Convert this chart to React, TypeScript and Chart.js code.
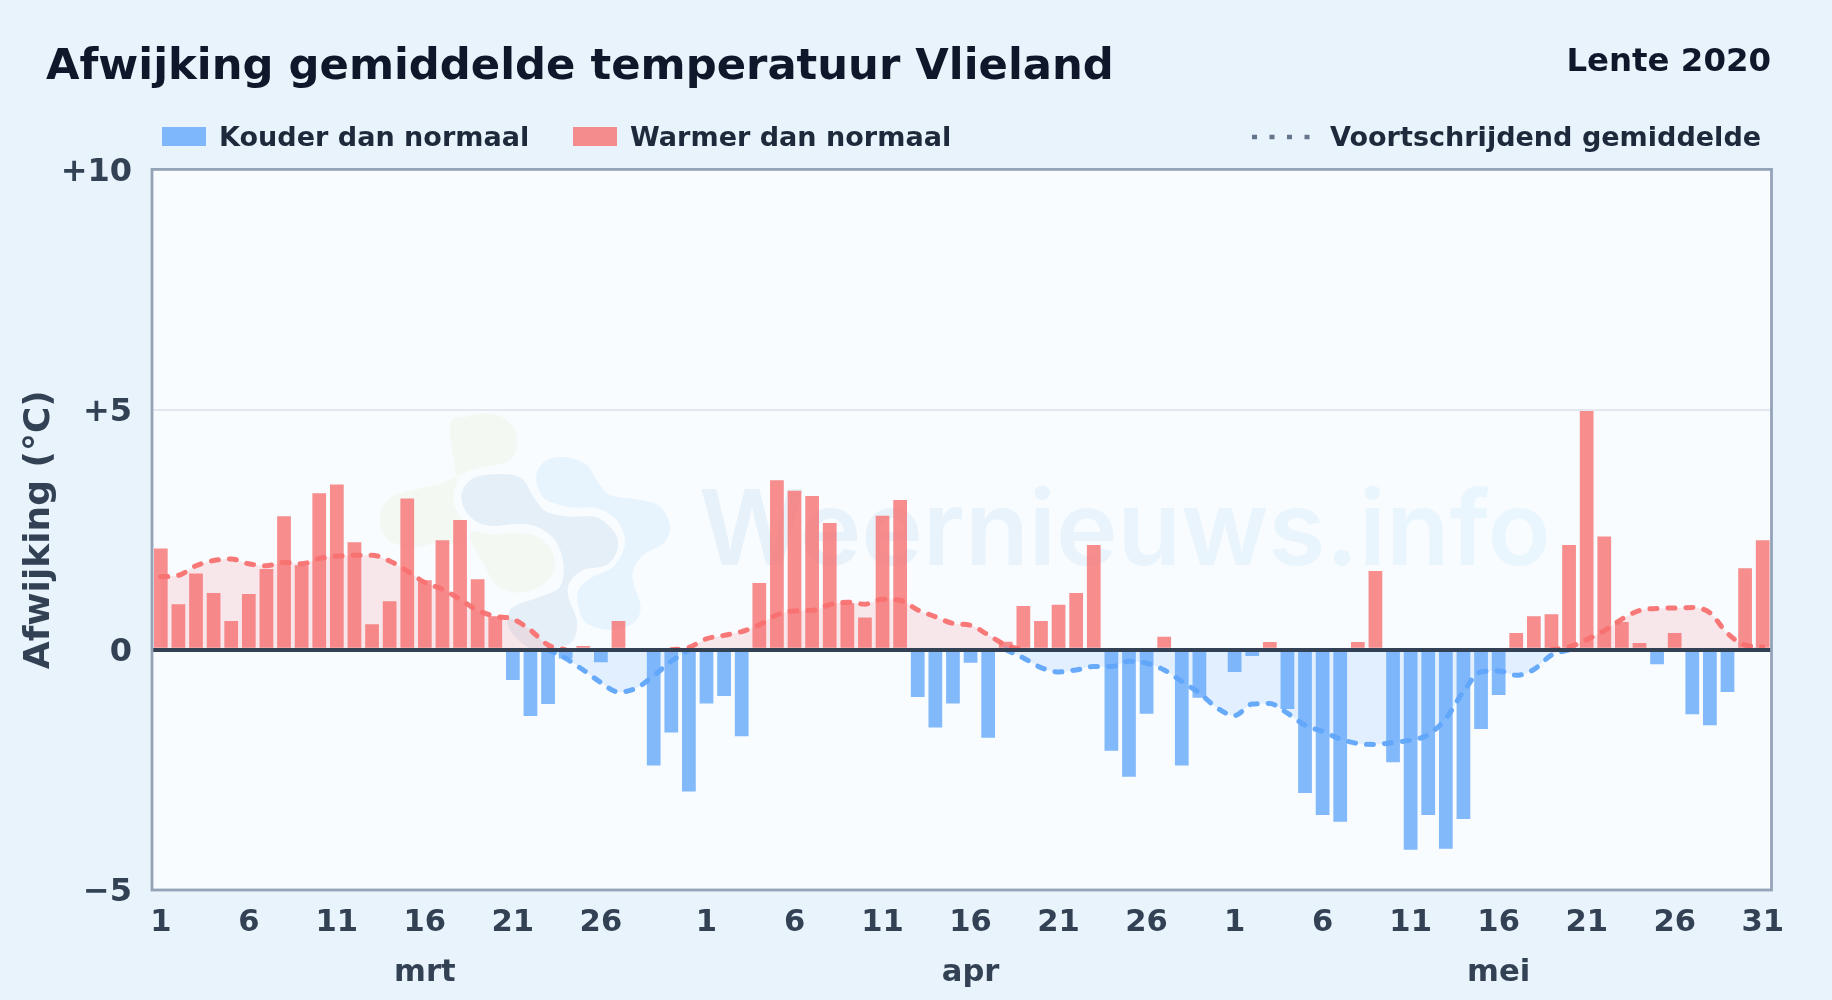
import React, { useEffect, useRef } from "react";
import { Chart, registerables } from "chart.js";

Chart.register(...registerables);

const monthNames = ["mrt", "apr", "mei"];
const monthDays = [31, 30, 31];
const tickDays = [1, 6, 11, 16, 21, 26];
const finalTickDay = 31;
const yTickLabels: Record<string, string> = { "10": "+10", "5": "+5", "0": "0", "-5": "\u22125" };

const deviations = [
  2.11, 0.95, 1.59, 1.18, 0.6, 1.16, 1.68, 2.78, 1.76, 3.26, 3.44, 2.24, 0.53, 1.01, 3.15, 1.45, 2.28, 2.7, 1.47, 0.7,
  -0.63, -1.38, -1.13, -0.18, 0.08, -0.26, 0.6, null, -2.41, -1.72, -2.95,
  -1.12, -0.96, -1.8, 1.39, 3.53, 3.31, 3.2, 2.64, 0.97, 0.67, 2.79, 3.12, -0.98, -1.62, -1.12, -0.27, -1.83, 0.17, 0.91,
  0.6, 0.94, 1.18, 2.18, -2.1, -2.64, -1.33, 0.27, -2.41, -1.0, null,
  -0.46, -0.13, 0.16, -1.23, -2.98, -3.44, -3.58, 0.16, 1.64, -2.34, -4.16, -3.44, -4.14, -3.52, -1.65, -0.94, 0.35, 0.7, 0.74, 2.18,
  5.0, 2.36, 0.58, 0.14, -0.3, 0.35, -1.34, -1.57, -0.88, 1.7, 2.28,
];

const movingAverage = [
  1.52, 1.55, 1.75, 1.86, 1.89, 1.79, 1.75, 1.82, 1.79, 1.9, 1.95, 1.97, 1.97, 1.85, 1.64, 1.4, 1.26, 1.05, 0.82, 0.7,
  0.64, 0.41, 0.1, -0.18, -0.42, -0.68, -0.88, -0.8, -0.54, -0.24, 0.05,
  0.23, 0.3, 0.38, 0.52, 0.73, 0.81, 0.82, 0.94, 0.99, 0.95, 1.05, 1.03, 0.83, 0.69, 0.55, 0.51, 0.31, 0.1, -0.17,
  -0.37, -0.46, -0.42, -0.35, -0.35, -0.24, -0.28, -0.42, -0.66, -0.9, -1.21,
  -1.37, -1.13, -1.12, -1.32, -1.57, -1.7, -1.86, -1.95, -1.97, -1.93, -1.88, -1.77, -1.43, -0.87, -0.46, -0.44, -0.53, -0.41, -0.11, 0.06,
  0.21, 0.4, 0.64, 0.82, 0.86, 0.87, 0.88, 0.77, 0.34, 0.1, 0.06,
];

const titleText = "Afwijking gemiddelde temperatuur Vlieland";
const periodText = "Lente 2020";
const legendCold = "Kouder dan normaal";
const legendWarm = "Warmer dan normaal";
const legendAverage = "Voortschrijdend gemiddelde";
const yAxisTitle = "Afwijking (\u00b0C)";
const watermarkText = "Weernieuws.info";

const FONT = '"DejaVu Sans"';
const PAGE_BG = "#e8f3fc";
const PLOT_BG = "#f8fcff";
const BLUE_BAR = "rgba(96,165,250,0.78)";
const RED_BAR = "rgba(246,113,113,0.8)";

const labels: (string | string[])[] = [];
monthNames.forEach((name, m) => {
  for (let d = 1; d <= monthDays[m]; d++) {
    let label: string | string[] = "";
    if (tickDays.includes(d) || (m === 2 && d === finalTickDay)) label = String(d);
    if (d === 16) label = [String(d), name];
    labels.push(label);
  }
});

// Keep one side of the average, with a zero where it meets the other side.
const sideOf = (sign: number) =>
  movingAverage.map((v, i) => {
    if (v * sign > 0) return v;
    const prev = movingAverage[i - 1];
    const next = movingAverage[i + 1];
    if ((prev !== undefined && prev * sign > 0) || (next !== undefined && next * sign > 0)) return 0;
    return null;
  });

const logoGreenTop = [[240,90],[290,50],[370,42],[425,75],[442,130],[420,180],[360,200],[290,215],[215,250],[130,270],[60,295],[30,350],[50,415],[120,443],[190,430],[280,400]];
const logoGreenLow = [[300,400],[400,400],[490,405],[545,450],[552,510],[510,560],[440,578],[380,555],[340,490]];
const logoDark = [[275,280],[310,235],[390,222],[455,235],[490,290],[530,335],[600,350],[680,352],[735,400],[742,450],[710,495],[640,510],[600,545],[595,590],[620,660],[610,720],[560,745],[480,745],[420,690],[415,640],[440,615],[510,590],[570,560],[580,490],[555,420],[500,380],[440,372],[370,378],[320,365],[285,330]];
const logoLight = [[500,220],[530,180],[590,172],[650,195],[680,240],[720,285],[800,298],[870,320],[900,380],[880,430],[820,465],[790,510],[790,550],[812,620],[790,670],[720,690],[650,670],[625,620],[625,570],[660,535],[730,500],[765,430],[740,360],[680,325],[600,322],[530,300],[505,265]];

function blob(ctx: CanvasRenderingContext2D, pts: number[][]) {
  const p = pts.map(([x, y]) => [370 + x / 3, 400 + y / 3]);
  const n = p.length;
  ctx.beginPath();
  ctx.moveTo(p[0][0], p[0][1]);
  for (let i = 0; i < n; i++) {
    const a = p[(i - 1 + n) % n], b = p[i], c = p[(i + 1) % n], d = p[(i + 2) % n];
    ctx.bezierCurveTo(b[0] + (c[0] - a[0]) / 6, b[1] + (c[1] - a[1]) / 6, c[0] - (d[0] - b[0]) / 6, c[1] - (d[1] - b[1]) / 6, c[0], c[1]);
  }
  ctx.closePath();
}

const decorPlugin = {
  id: "decor",
  beforeDraw(chart: any) {
    const { ctx, chartArea: a } = chart;
    ctx.save();
    ctx.fillStyle = PAGE_BG;
    ctx.fillRect(0, 0, chart.width, chart.height);
    ctx.fillStyle = PLOT_BG;
    ctx.fillRect(a.left, a.top, a.right - a.left, a.bottom - a.top);

    ctx.fillStyle = "#f3f9f2";
    blob(ctx, logoGreenTop); ctx.fill();
    blob(ctx, logoGreenLow); ctx.fill();
    ctx.strokeStyle = PLOT_BG;
    ctx.lineWidth = 16;
    ctx.fillStyle = "#e5eff8";
    blob(ctx, logoDark); ctx.stroke(); ctx.fill();
    ctx.fillStyle = "#e7f4fe";
    blob(ctx, logoLight); ctx.fill();

    const g = ctx.createLinearGradient(700, 0, 1545, 0);
    g.addColorStop(0, "#e7f1f9");
    g.addColorStop(1, "#eaf6fe");
    ctx.fillStyle = g;
    ctx.font = '600 104px Inter';
    ctx.textAlign = "left";
    ctx.textBaseline = "alphabetic";
    ctx.fillText(watermarkText, 699, 565);
    ctx.restore();
  },
  afterDraw(chart: any) {
    const { ctx, chartArea: a } = chart;
    ctx.save();
    ctx.strokeStyle = "#94a3b8";
    ctx.lineWidth = 2.8;
    ctx.strokeRect(a.left, a.top, a.right - a.left, a.bottom - a.top);

    ctx.textBaseline = "alphabetic";
    ctx.textAlign = "left";
    ctx.fillStyle = "#0f172a";
    ctx.font = `bold 43.3px ${FONT}`;
    ctx.fillText(titleText, 46, 79);
    ctx.textAlign = "right";
    ctx.font = `bold 32.4px ${FONT}`;
    ctx.fillText(periodText, 1771, 71);

    ctx.textAlign = "left";
    ctx.font = `bold 27.05px ${FONT}`;
    ctx.fillStyle = BLUE_BAR;
    ctx.fillRect(162, 127, 44, 19);
    ctx.fillStyle = RED_BAR;
    ctx.fillRect(573, 127, 44, 19);
    ctx.fillStyle = "#1e293b";
    ctx.fillText(legendCold, 219, 146);
    ctx.fillText(legendWarm, 630, 146);
    ctx.fillText(legendAverage, 1330, 146);
    ctx.strokeStyle = "#64748b";
    ctx.lineWidth = 4.5;
    ctx.setLineDash([5, 12.5]);
    ctx.beginPath();
    ctx.moveTo(1252, 137);
    ctx.lineTo(1310, 137);
    ctx.stroke();
    ctx.restore();
  },
};

export default function App() {
  const ref = useRef<HTMLCanvasElement>(null);
  useEffect(() => {
    const lineBase = {
      type: "line" as const,
      borderWidth: 5,
      borderDash: [7, 11],
      borderCapStyle: "round" as const,
      pointRadius: 0,
      cubicInterpolationMode: "monotone" as const,
      spanGaps: false,
      order: 0,
    };
    const chart = new Chart(ref.current!, {
      type: "bar",
      plugins: [decorPlugin],
      data: {
        labels,
        datasets: [
          {
            data: deviations,
            backgroundColor: deviations.map((v) => ((v ?? 0) < 0 ? BLUE_BAR : RED_BAR)),
            barPercentage: 0.78,
            categoryPercentage: 1,
            order: 1,
          },
          {
            ...lineBase,
            data: sideOf(1),
            borderColor: "rgba(248,113,113,0.95)",
            fill: { target: "origin", above: "rgba(248,113,113,0.15)", below: "rgba(248,113,113,0.15)" },
          },
          {
            ...lineBase,
            data: sideOf(-1),
            borderColor: "rgba(96,165,250,0.95)",
            fill: { target: "origin", above: "rgba(96,165,250,0.15)", below: "rgba(96,165,250,0.15)" },
          },
        ] as any,
      },
      options: {
        animation: false,
        responsive: false,
        devicePixelRatio: 1,
        layout: { padding: { top: 169.4, right: 60.5, left: 0, bottom: 0 } },
        plugins: {
          legend: { display: false },
          tooltip: { enabled: false },
          filler: { drawTime: "beforeDatasetsDraw" },
        } as any,
        scales: {
          x: {
            offset: true,
            afterFit: (s: any) => { s.height = 110; },
            grid: { display: false, drawTicks: false },
            border: { display: false },
            ticks: {
              autoSkip: false,
              maxRotation: 0,
              minRotation: 0,
              padding: 8,
              color: "#334155",
              font: { family: FONT, weight: "bold", size: 30.6, lineHeight: 1.64 },
            },
          },
          y: {
            min: -5,
            max: 10,
            afterFit: (s: any) => { s.width = 152; },
            border: { display: false },
            title: {
              display: true,
              text: yAxisTitle,
              color: "#334155",
              font: { family: FONT, weight: "bold", size: 36 },
              padding: { top: 18, bottom: 0 },
            },
            grid: {
              z: 1,
              drawTicks: false,
              color: (c: any) => (c.tick.value === 0 ? "#334155" : c.tick.value === 5 ? "#e2e8f0" : "rgba(0,0,0,0)"),
              lineWidth: (c: any) => (c.tick.value === 0 ? 4 : 2),
            },
            ticks: {
              stepSize: 5,
              padding: 20,
              labelOffset: 3,
              color: "#334155",
              font: { family: FONT, weight: "bold", size: 32 },
              callback: (v: any) => yTickLabels[String(v)] ?? "",
            },
          },
        },
      } as any,
    });
    return () => chart.destroy();
  }, []);
  return (
    <div style={{ position: "absolute", left: 0, top: 0, width: 1832, height: 1000, overflow: "hidden" }}>
      <canvas ref={ref} width={1832} height={1000} style={{ display: "block" }} />
    </div>
  );
}
